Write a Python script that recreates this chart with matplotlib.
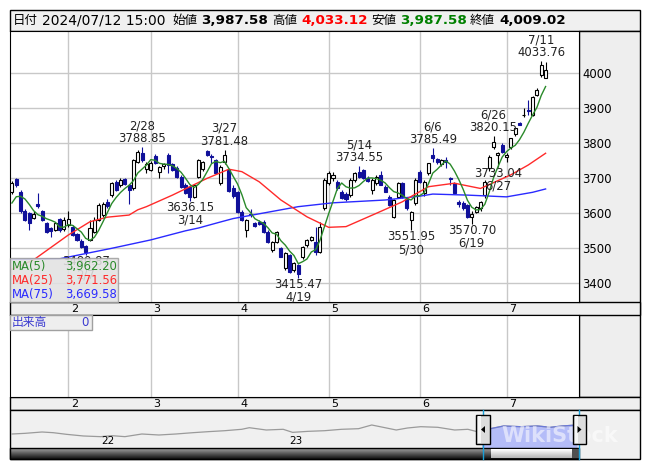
import numpy as np
import pandas as pd
import matplotlib
matplotlib.use('Agg')
from matplotlib import pyplot as plt
from matplotlib.patches import Rectangle, Polygon
from matplotlib.transforms import offset_copy, blended_transform_factory


# Trading calendar shown in the chart
start_date = '2024-01-15'
end_date = '2024-07-12'
holidays = ['2024-02-12', '2024-02-23', '2024-03-20', '2024-04-29', '2024-05-03', '2024-05-06']
quote_time = '15:00'

# Daily candles
opens = [3662, 3697, 3662, 3608, 3600, 3588, 3627, 3606, 3572, 3558, 3553, 3583, 3555,
         3567, 3562, 3540, 3522, 3506, 3524, 3548, 3581, 3595, 3633, 3652, 3690, 3681, 3697, 3680, 3671, 3748, 3772, 3728,
         3725, 3765, 3718, 3736, 3766, 3740, 3730, 3705, 3682, 3676, 3648, 3705, 3728, 3777, 3765, 3752, 3688, 3747, 3724, 3671,
         3660, 3605, 3552, 3598, 3572, 3576, 3576, 3548, 3495, 3519, 3500, 3443, 3481, 3438, 3452, 3476, 3510, 3524, 3519, 3490, 3615,
         3686, 3700, 3690, 3662, 3655, 3652, 3695, 3719, 3724, 3700, 3666, 3686, 3710, 3676, 3647, 3590, 3648, 3686, 3640, 3582, 3629,
         3719, 3657, 3714, 3766, 3755, 3740, 3752, 3700, 3686, 3633, 3630, 3624, 3590, 3605, 3614, 3652, 3729, 3790, 3768, 3795,
         3762, 3790, 3828, 3858, 3880, 3895, 3881, 3938, 3995, 3987.58]
highs = [3692, 3702, 3666, 3612, 3603, 3606, 3657, 3610, 3575, 3562, 3574, 3587, 3590,
         3606, 3568, 3545, 3528, 3510, 3581, 3590, 3630, 3632, 3640, 3690, 3695, 3700, 3702, 3685, 3755, 3780, 3788.85, 3748,
         3750, 3770, 3735, 3745, 3772, 3745, 3734, 3710, 3686, 3680, 3684, 3756, 3750, 3780, 3770, 3756, 3738, 3781.48, 3728, 3680,
         3665, 3610, 3583, 3612, 3576, 3580, 3580, 3552, 3522, 3550, 3505, 3490, 3485, 3460, 3455, 3508, 3527, 3536, 3562, 3576, 3700,
         3720, 3718, 3695, 3666, 3660, 3700, 3718, 3734.55, 3728, 3706, 3700, 3710, 3720, 3680, 3652, 3642, 3690, 3690, 3645, 3608, 3700,
         3724, 3695, 3745, 3785.49, 3758, 3755, 3760, 3705, 3690, 3638, 3634, 3628, 3606, 3622, 3635, 3695, 3766, 3820.15, 3775, 3800,
         3771, 3815, 3845, 3862, 3900, 3924, 3935, 3957, 4033.76, 4033.12]
lows = [3655, 3676, 3600, 3577, 3551, 3584, 3614, 3578, 3545, 3533, 3549, 3548, 3550,
        3562, 3534, 3520, 3500, 3480.87, 3520, 3545, 3578, 3590, 3615, 3648, 3665, 3675, 3680, 3628, 3668, 3745, 3748, 3715,
        3720, 3740, 3700, 3728, 3715, 3722, 3700, 3672, 3655, 3636.15, 3645, 3700, 3722, 3765, 3745, 3712, 3682, 3742, 3660, 3645,
        3600, 3578, 3533, 3590, 3560, 3566, 3545, 3515, 3490, 3515, 3474, 3438, 3430, 3432, 3415.47, 3470, 3505, 3520, 3480, 3486, 3610,
        3680, 3692, 3668, 3640, 3636, 3648, 3690, 3700, 3698, 3690, 3656, 3682, 3680, 3660, 3622, 3586, 3645, 3645, 3610, 3551.95, 3625,
        3686, 3650, 3710, 3748, 3740, 3735, 3730, 3680, 3655, 3619, 3610, 3588, 3570.70, 3600, 3608, 3645, 3720, 3785, 3733.04, 3772,
        3748, 3785, 3822, 3852, 3875, 3880, 3878, 3935, 3990, 3987.58]
closes = [3687, 3680, 3606, 3582, 3572, 3598, 3622, 3582, 3548, 3550, 3571, 3553, 3580,
          3585, 3538, 3524, 3505, 3490, 3557, 3581, 3624, 3628, 3620, 3686, 3667, 3695, 3685, 3667, 3752, 3776, 3752, 3742,
          3745, 3743, 3732, 3741, 3738, 3725, 3705, 3676, 3658, 3648, 3681, 3752, 3747, 3767, 3762, 3714, 3733, 3766, 3665, 3650,
          3605, 3581, 3580, 3594, 3563, 3570, 3548, 3519, 3519, 3546, 3476, 3486, 3433, 3457, 3428, 3505, 3524, 3533, 3490, 3562, 3695,
          3714, 3710, 3671, 3643, 3641, 3695, 3714, 3704, 3700, 3692, 3695, 3705, 3681, 3662, 3624, 3638, 3686, 3648, 3614, 3605, 3695,
          3690, 3690, 3743, 3757, 3748, 3753, 3748, 3697, 3657, 3627, 3614, 3590, 3598, 3619, 3633, 3690, 3762, 3805, 3771, 3776,
          3767, 3814, 3843, 3853, 3882, 3893, 3933, 3952, 4024, 4009.02]
prior_closes = [3590, 3600, 3620, 3650]

# Moving averages 25 / 75 read at sample days (day index, value)
ma25_day = [0, 5, 13, 18, 22, 27, 29, 31, 37, 45, 50, 53, 57, 62, 68, 73, 77, 84, 90, 92, 96, 102, 108, 115, 119, 123]
ma25_val = [3440, 3467, 3538, 3576, 3589, 3595, 3610, 3619, 3652, 3700, 3726, 3719, 3690, 3638, 3590, 3560, 3562,
            3600, 3633, 3648, 3676, 3686, 3671, 3710, 3738, 3771.56]
ma75_day = [0, 11, 23, 32, 40, 43, 48, 51, 66, 74, 86, 94, 97, 105, 114, 120, 123]
ma75_val = [3468, 3470, 3500, 3524, 3550, 3558, 3575, 3585, 3619, 3630, 3638, 3649, 3655, 3652, 3647, 3660, 3669.58]

# Swing labels
high_marks = ['2/28', '3/27', '5/14', '6/6', '6/26', '7/11']
low_marks = ['2/7', '3/14', '4/19', '5/30', '6/19', '6/27']
price_ticks = [3400, 3500, 3600, 3700, 3800, 3900, 4000]

# Navigator (long history)
nav_years = [2021.54, 2021.61, 2021.70, 2021.76, 2021.83, 2021.92, 2022.01, 2022.07, 2022.14, 2022.23,
             2022.32, 2022.41, 2022.50, 2022.58, 2022.67, 2022.76, 2022.80, 2022.89, 2022.98, 2023.03,
             2023.11, 2023.20, 2023.29, 2023.38, 2023.45, 2023.51, 2023.58, 2023.64, 2023.71, 2023.80,
             2023.89, 2023.96, 2024.01, 2024.09, 2024.15, 2024.24, 2024.33, 2024.40, 2024.46, 2024.54]
nav_values = [2952, 3030, 3187, 3105, 2913, 2718, 2640, 2757, 2640, 2952,
              2835, 2952, 3105, 3223, 3340, 3504, 3692, 3422, 3504, 3144,
              3262, 3340, 3504, 3575, 4009, 3739, 3422, 3657, 3810, 3739,
              3422, 3504, 3223, 3622, 3892, 3810, 3892, 3739, 3892, 4009]
nav_year_labels = [2022, 2023]
nav_window = (2024.035, 2024.55)


W, H = 653, 470
BLUE = '#10109a'
GREEN = '#2a8a2a'
RED = '#ff2a2a'
MABLUE = '#2a2aff'
JP = ['Noto Sans CJK JP', 'DejaVu Sans']
plt.rcParams['font.family'] = ['DejaVu Sans', 'Noto Sans CJK JP']


def box(x0, y0, x1, y1):
    return [x0 / W, 1 - y1 / H, (x1 - x0) / W, (y1 - y0) / H]


def fig_rect(x0, y0, x1, y1, **kw):
    r = Rectangle((x0 / W, 1 - y1 / H), (x1 - x0) / W, (y1 - y0) / H,
                  transform=fig.transFigure, **kw)
    fig.add_artist(r)
    return r


def fig_text(x, y, s, **kw):
    return fig.text(x / W, 1 - y / H, s, **kw)


days = pd.bdate_range(start_date, end_date, freq='C', holidays=holidays)
labels = [f'{d.month}/{d.day}' for d in days]
n = len(closes)
x = np.arange(n)
o, h, l, c = (np.array(v, dtype=float) for v in (opens, highs, lows, closes))
ma5 = pd.Series(prior_closes + closes).rolling(5).mean().to_numpy()[len(prior_closes):]
month_pos = [i for i in range(1, n) if days[i].month != days[i - 1].month]
xlim = (-0.44, 130.7)

fig = plt.figure(figsize=(W / 100, H / 100), dpi=100)

# Frames and grey bands
fig_rect(10, 10, 640, 31, fc='#f0f0f0', ec='black', lw=1, zorder=-1)
fig_rect(579, 31, 640, 397, fc='#eeeeee', ec='black', lw=1, zorder=-1)
fig_rect(10, 302, 640, 315, fc='#efefef', ec='black', lw=1, zorder=-1)
fig_rect(10, 397, 640, 410, fc='#efefef', ec='black', lw=1, zorder=-1)
fig_rect(10, 410, 640, 459, fc='#f0f0f0', ec='black', lw=1, zorder=-1)

# Header
last = n - 1
hy = 20.5
fig_text(12.5, hy, '日付', family=JP, fontsize=9, va='center')
fig_text(41.7, hy, f'{days[last]:%Y/%m/%d} {quote_time}', fontsize=10, va='center')
head = [(172, '始値', o[last], 'black'), (272, '高値', h[last], 'red'),
        (371, '安値', l[last], '#008000'), (470, '終値', c[last], 'black')]
for hx, name, val, col in head:
    fig_text(hx, hy, name, family=JP, fontsize=9, va='center')
    fig_text(hx + 29, hy, f'{val:,.2f}', fontsize=9.7, fontweight='bold', color=col, va='center')

# Price panel
ax = fig.add_axes(box(10, 31, 579, 302))
ax.set_xlim(*xlim)
ax.set_ylim(3346.6, 4120.9)
ax.set_xticks(month_pos)
ax.set_yticks(price_ticks)
ax.yaxis.tick_right()
ax.tick_params(axis='x', length=0, labelbottom=False)
ax.tick_params(axis='y', length=0, pad=2.2, labelsize=8.4)
ax.grid(color='#c8c8c8', lw=1)
ax.set_axisbelow(True)
for sp in ax.spines.values():
    sp.set_color('black')

up = c >= o
body_lo = np.minimum(o, c)
body_h = np.maximum(np.abs(c - o), 0.6)
ax.vlines(x[up], l[up], h[up], color='black', lw=0.8, zorder=3)
ax.vlines(x[~up], l[~up], h[~up], color=BLUE, lw=0.8, zorder=3)
ax.bar(x[up], body_h[up], bottom=body_lo[up], width=0.7, facecolor='white', edgecolor='black', lw=0.8, zorder=4)
ax.bar(x[~up], body_h[~up], bottom=body_lo[~up], width=0.7, facecolor=BLUE, edgecolor=BLUE, lw=0.8, zorder=4)

ax.plot(ma75_day, ma75_val, color=MABLUE, lw=1, zorder=5)
ax.plot(ma25_day, ma25_val, color=RED, lw=1, zorder=5)
ax.plot(x, ma5, color=GREEN, lw=1, zorder=5)

for lab in high_marks:
    i = labels.index(lab)
    ax.annotate(f'{lab}\n{h[i]:.2f}', (i, h[i]), xytext=(0, 1.5), textcoords='offset points',
                ha='center', va='bottom', fontsize=8.4, linespacing=1.0, color='#222222', zorder=6)
for lab in low_marks:
    i = labels.index(lab)
    ax.annotate(f'{l[i]:.2f}\n{lab}', (i, l[i]), xytext=(0, 0), textcoords='offset points',
                ha='center', va='top', fontsize=8.4, linespacing=1.0, color='#222222', zorder=6)

# MA legend (sits over the chart, hiding part of the 2/7 label as in the original)
fig_rect(10, 258, 118, 302, fc='#e2e2e2', ec='#a0a0a0', lw=1, alpha=0.88, zorder=4)
legend_rows = [('MA(5)', ma5[-1], GREEN), ('MA(25)', ma25_val[-1], RED), ('MA(75)', ma75_val[-1], MABLUE)]
for k, (name, val, col) in enumerate(legend_rows):
    yy = 266.5 + 14 * k
    fig_text(12, yy, name, color=col, fontsize=8.4, va='center', zorder=5)
    fig_text(117, yy, f'{val:,.2f}', color=col, fontsize=8.4, va='center', ha='right', zorder=5)


def month_strip(y0, y1):
    s = fig.add_axes(box(10, y0, 579, y1), zorder=2)
    s.set_facecolor('none')
    s.axis('off')
    s.set_xlim(*xlim)
    tr = offset_copy(blended_transform_factory(s.transData, s.transAxes), fig=fig, x=2.5, units='dots')
    for i in month_pos:
        s.text(i, 0.45, str(days[i].month), transform=tr, fontsize=8, ha='left', va='center')


month_strip(302, 315)

# Volume panel
axv = fig.add_axes(box(10, 315, 579, 397))
axv.set_xlim(*xlim)
axv.set_xticks(month_pos)
axv.set_yticks([])
axv.tick_params(axis='x', length=0, labelbottom=False)
axv.grid(axis='x', color='#c8c8c8', lw=1)
for sp in axv.spines.values():
    sp.set_color('black')
fig_rect(10, 315, 92, 330, fc='#eeeeee', ec='#a0a0a0', lw=1, zorder=4)
fig_text(12, 322.5, '出来高', family=JP, color='#3a3ad0', fontsize=8.5, va='center', zorder=5)
fig_text(89, 322.5, '0', color='#3a3ad0', fontsize=8.5, va='center', ha='right', zorder=5)

month_strip(397, 410)

# Navigator
axn = fig.add_axes(box(10, 410, 579, 448), zorder=2)
axn.set_facecolor('none')
axn.axis('off')
axn.set_xlim(2021.53, 2024.55)
axn.set_ylim(1308, 5770)
clip = Rectangle((nav_window[0], 1308), nav_window[1] - nav_window[0], 5770 - 1308, transform=axn.transData)
fill = axn.fill_between(nav_years, nav_values, 1308, color='#b4bcf8', lw=0)
fill.set_clip_path(clip)
axn.plot(nav_years, nav_values, color='#9a9a9a', lw=0.9)
blue_line, = axn.plot(nav_years, nav_values, color='#6a78d8', lw=0.9)
blue_line.set_clip_path(clip)
ntr = offset_copy(axn.transData, fig=fig, x=2.5, units='dots')
for yr in nav_year_labels:
    axn.text(yr, 2100, str(yr)[2:], transform=ntr, fontsize=7.5, ha='left', va='center')

fig_text(560, 436, 'WikiStock', fontsize=15, fontweight='bold', color='white', alpha=0.55,
         ha='center', va='center', zorder=3)

# Scroll bar
axs = fig.add_axes(box(10, 448, 579, 459))
axs.axis('off')
track = np.linspace(0.62, 0.08, 12)[:, None] * np.ones((1, 2))
axs.imshow(track, cmap='gray', vmin=0, vmax=1, aspect='auto', extent=(0, 1, 0, 1))
fig_rect(10, 448, 579, 459, fc='none', ec='black', lw=1, zorder=3)
thumb = fig.add_axes(box(491, 449, 572, 458), zorder=3)
thumb.axis('off')
thumb.imshow(np.linspace(1.0, 0.72, 10)[:, None] * np.ones((1, 2)), cmap='gray', vmin=0, vmax=1,
             aspect='auto', extent=(0, 1, 0, 1))
fig_rect(572, 449, 579, 458, fc='#505050', ec='none', zorder=3)

# Window handles
for xl in (482.5, 579):
    fig.add_artist(plt.Line2D([xl / W, xl / W], [1 - 459 / H, 1 - 410 / H], color='#19a0d8', lw=1,
                              transform=fig.transFigure, zorder=4))
for x0, x1, sign in ((476, 490, -1), (573, 586, 1)):
    fig_rect(x0, 415, x1, 444, fc='#dcdcdc', ec='black', lw=1, zorder=5)
    fig_rect(x0 + 2, 416, x0 + 5, 443, fc='#f6f6f6', ec='none', zorder=5)
    cx = (x0 + x1) / 2
    tri = [(cx + 2 * sign, 429.5), (cx - 2 * sign, 426), (cx - 2 * sign, 433)]
    fig.add_artist(Polygon([(px / W, 1 - py / H) for px, py in tri], closed=True, fc='black', ec='none',
                           transform=fig.transFigure, zorder=6))

fig.savefig('out.png', dpi=100)
